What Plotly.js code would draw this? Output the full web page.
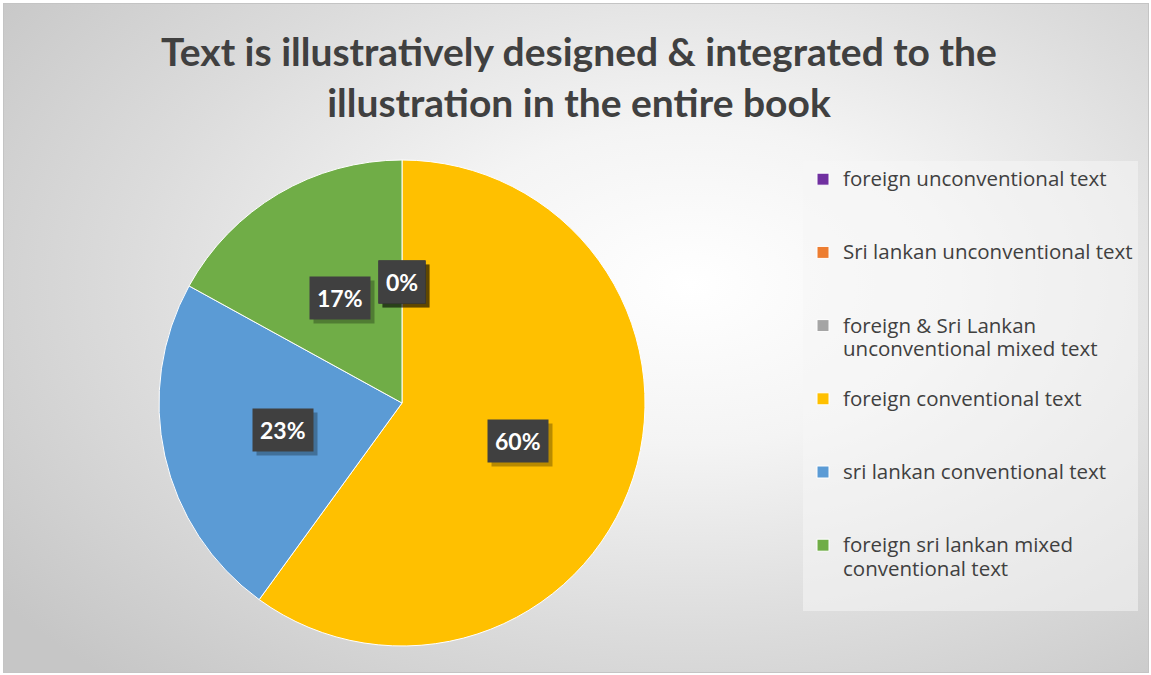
<!DOCTYPE html>
<html>
<head>
<meta charset="utf-8">
<script src="https://cdn.plot.ly/plotly-3.0.1.min.js"></script>
<style>
  html, body { margin: 0; padding: 0; background: #ffffff; }
  #bg {
    position: absolute; left: 3px; top: 3px; width: 1144px; height: 668px;
    border: 1px solid #c4c4c4;
    background: radial-gradient(ellipse 75% 80% at 60% 42%, #ffffff 0%, #f4f4f4 30%, #dcdcdc 65%, #c6c6c6 100%);
  }
  #chart { position: absolute; left: 0; top: 0; width: 1151px; height: 675px; }
</style>
</head>
<body>
<div id="bg"></div>
<div id="chart"></div>
<script>
// ---- data ----
const categories = [
  "foreign unconventional text",
  "Sri lankan unconventional text",
  "foreign & Sri Lankan unconventional mixed text",
  "foreign conventional text",
  "sri lankan conventional text",
  "foreign sri lankan mixed conventional text"
];
const legendLines = [
  ["foreign unconventional text"],
  ["Sri lankan unconventional text"],
  ["foreign & Sri Lankan", "unconventional mixed text"],
  ["foreign conventional text"],
  ["sri lankan conventional text"],
  ["foreign sri lankan mixed", "conventional text"]
];
const values = [0, 0, 0, 60, 23, 17];
const colors = ["#7030A0", "#ED7D31", "#A5A5A5", "#FFC000", "#5B9BD5", "#70AD47"];
const titleText = "Text is illustratively designed & integrated to the<br>illustration in the entire book";

// legend labels: three-line slots, text drawn slightly larger than the slot font
const legendLabels = legendLines.map(lines => {
  const parts = lines.map(s => "<span style='font-size:20.5px'>" + s + "</span>");
  while (parts.length < 3) parts.push(" ");
  return parts.join("<br>");
});

// ---- geometry ----
const W = 1151, H = 675;
const cxPx = 402, cyPx = 403, R = 243;
const domX = [(cxPx - R) / W, (cxPx + R) / W];
const domY = [(H - cyPx - R) / H, (H - cyPx + R) / H];

// label positions computed from values (mid-angle, half radius)
const total = values.reduce((a, b) => a + b, 0);
const annotations = [];
let cum = 0;
values.forEach((v, i) => {
  const mid = (cum + v / 2) / total * 2 * Math.PI;
  cum += v;
  const px = cxPx + 0.5 * R * Math.sin(mid);
  const py = cyPx - 0.5 * R * Math.cos(mid);
  const base = {
    x: px / W, y: 1 - py / H, xref: "paper", yref: "paper",
    xanchor: "center", yanchor: "middle",
    text: "<b>" + v + "%</b>", showarrow: false,
    font: { family: "Lato, 'Open Sans', sans-serif", size: 23 },
    borderpad: 7
  };
  annotations.push(Object.assign({}, base, {
    font: Object.assign({}, base.font, { color: "rgba(0,0,0,0)" }),
    bgcolor: "rgba(0,0,0,0.28)", xshift: 4, yshift: -4
  }));
  annotations.push(Object.assign({}, base, {
    font: Object.assign({}, base.font, { color: "#ffffff" }),
    bgcolor: "#404040"
  }));
});

const trace = {
  type: "pie",
  labels: legendLabels,
  values: values,
  marker: { colors: colors, line: { color: "#ffffff", width: 1 } },
  sort: false,
  direction: "clockwise",
  rotation: 0,
  textinfo: "none",
  hoverinfo: "label+percent",
  domain: { x: domX, y: domY }
};

const layout = {
  width: W, height: H,
  margin: { l: 0, r: 0, t: 0, b: 0 },
  paper_bgcolor: "rgba(0,0,0,0)",
  plot_bgcolor: "rgba(0,0,0,0)",
  title: {
    text: "<b>" + titleText + "</b>",
    font: { family: "Lato, 'Open Sans', sans-serif", size: 39, color: "#404040" },
    x: 0.503, xanchor: "center",
    y: 1 - 66 / H, yanchor: "top", yref: "container"
  },
  showlegend: true,
  legend: {
    x: 803 / W, xanchor: "left",
    y: 1 - 161 / H, yanchor: "top",
    bgcolor: "rgba(245,245,245,0.55)",
    font: { family: "'Open Sans', sans-serif", size: 18, color: "#404040" },
    valign: "top",
    traceorder: "normal"
  },
  annotations: annotations
};

Plotly.newPlot("chart", [trace], layout, { displayModeBar: false, staticPlot: true });
</script>
</body>
</html>
